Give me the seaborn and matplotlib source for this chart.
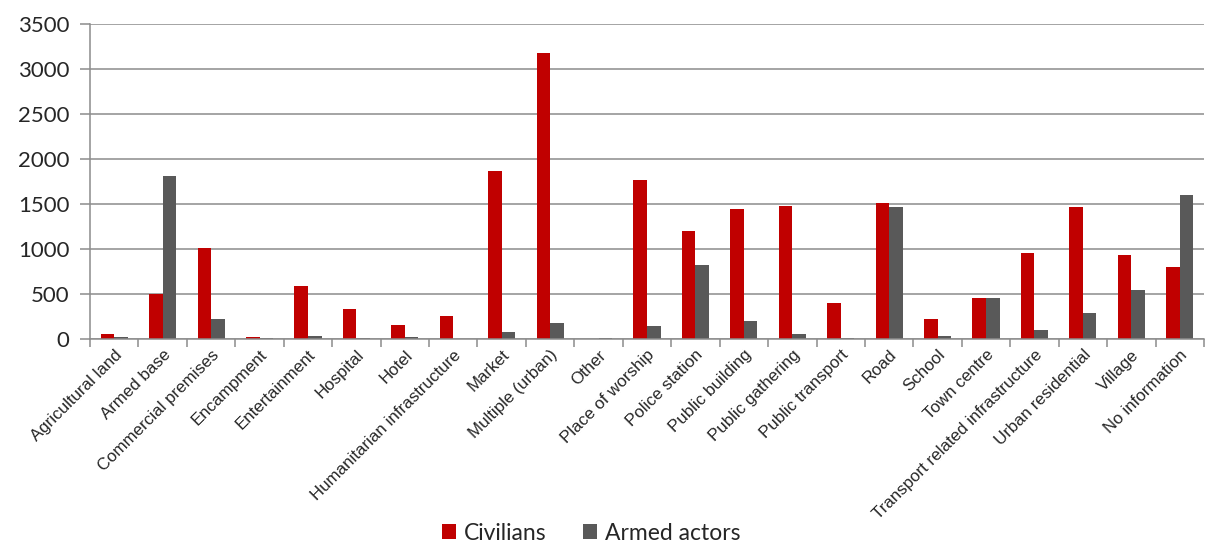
import numpy as np
import pandas as pd
import matplotlib
matplotlib.use("Agg")
import matplotlib.pyplot as plt
import seaborn as sns
from matplotlib.patches import Patch

categories = [
    "Agricultural land", "Armed base", "Commercial premises", "Encampment",
    "Entertainment", "Hospital", "Hotel", "Humanitarian infrastructure",
    "Market", "Multiple (urban)", "Other", "Place of worship",
    "Police station", "Public building", "Public gathering", "Public transport",
    "Road", "School", "Town centre", "Transport related infrastructure",
    "Urban residential", "Village", "No information",
]
civilians = [50, 500, 1005, 25, 590, 330, 160, 255, 1870, 3180, 0, 1770,
             1200, 1440, 1475, 395, 1505, 220, 460, 950, 1465, 930, 800]
armed_actors = [25, 1810, 220, 10, 35, 5, 25, 0, 80, 180, 15, 140,
                825, 200, 50, 5, 1465, 30, 450, 100, 290, 540, 1600]
series_names = ["Civilians", "Armed actors"]
series_colors = ["#C00000", "#595959"]
y_ticks = [0, 500, 1000, 1500, 2000, 2500, 3000, 3500]

n = len(categories)
df = pd.DataFrame({
    "Location": categories * 2,
    "Casualties": civilians + armed_actors,
    "Group": [series_names[0]] * n + [series_names[1]] * n,
})

sns.set_theme(style="white")
plt.rcParams["font.family"] = ["Lato", "DejaVu Sans"]

fig = plt.figure(figsize=(12.07, 5.44), dpi=100)
ax = fig.add_axes([0.0746, 0.377, 0.9229, 0.579])

sns.barplot(
    data=df, x="Location", y="Casualties", hue="Group",
    order=categories, hue_order=series_names,
    palette=series_colors, saturation=1, width=0.56, gap=0,
    linewidth=0, legend=False, ax=ax,
)

axis_grey = "#8c8c8c"
ax.set_xlim(-0.5, n - 0.5)
ax.set_ylim(0, 3500)
ax.set_xlabel("")
ax.set_ylabel("")

# category labels centred on each group, tick marks at the group boundaries
ax.set_xticks(np.arange(-0.5, n, 1.0))
ax.set_xticklabels([])
ax.set_xticks(np.arange(n), minor=True)
ax.set_xticklabels(categories, minor=True, rotation=45, ha="right",
                   rotation_mode="anchor", fontsize=12.2,
                   family=["Liberation Sans", "DejaVu Sans"])
ax.tick_params(axis="x", which="major", length=6, width=1.1,
               color=axis_grey, direction="out", bottom=True)
ax.tick_params(axis="x", which="minor", length=0, pad=6)

ax.set_yticks(y_ticks)
ax.set_yticklabels([str(v) for v in y_ticks], fontsize=16)
ax.tick_params(axis="y", length=7, width=1.1, color=axis_grey,
               direction="out", left=True, pad=8)

ax.yaxis.grid(True, color=axis_grey, linewidth=1.1)
ax.set_axisbelow(True)
for side in ("top", "right"):
    ax.spines[side].set_visible(False)
for side in ("left", "bottom"):
    ax.spines[side].set_color(axis_grey)
    ax.spines[side].set_linewidth(1.1)

handles = [Patch(facecolor=c, edgecolor="none", label=s)
           for s, c in zip(series_names, series_colors)]
fig.legend(handles=handles, loc="center", bbox_to_anchor=(0.49, 0.02),
           ncol=2, frameon=False, fontsize=16.5, handlelength=0.6,
           handleheight=0.6, handletextpad=0.35, columnspacing=1.6)

fig.savefig("out.png", dpi=100)
